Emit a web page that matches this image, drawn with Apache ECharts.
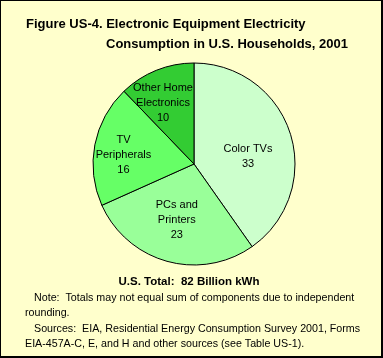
<!DOCTYPE html>
<html>
<head>
<meta charset="utf-8">
<script src="https://cdn.jsdelivr.net/npm/echarts@6/dist/echarts.min.js"></script>
<style>
html,body{margin:0;padding:0;background:#FFFFCC;}
#c{width:383px;height:358px;box-sizing:border-box;border-left:1px solid #000;border-top:1px solid #000;border-right:2px solid #000;border-bottom:2px solid #000;background:#FFFFCC;}
</style>
</head>
<body>
<div id="c"></div>
<script>
var categories = ['Color TVs', 'PCs and\nPrinters', 'TV\nPeripherals', 'Other Home\nElectronics'];
var values = [33, 23, 16, 10];
var sliceColors = ['#CCFFCC', '#99FF99', '#66FF66', '#33CC33'];
var titleLines = ['Figure US-4. Electronic Equipment Electricity', 'Consumption in U.S. Households, 2001'];
var totalText = 'U.S. Total:  82 Billion kWh';
var noteLines = ['Note:  Totals may not equal sum of components due to independent', 'rounding.', 'Sources:  EIA, Residential Energy Consumption Survey 2001, Forms', 'EIA-457A-C, E, and H and other sources (see Table US-1).'];

var labelShift = [[3, 9], [-3, 4], [-18, 1], [-11, -11]];
var font = 'Arial, "Liberation Sans", sans-serif';

var chart = echarts.init(document.getElementById('c'), null, {renderer: 'canvas'});
chart.setOption({
  backgroundColor: '#FFFFCC',
  animation: false,
  series: [{
    type: 'pie',
    center: [193, 163],
    radius: [0, 101],
    startAngle: 90,
    clockwise: true,
    data: categories.map(function (c, i) {
      return {name: c, value: values[i], itemStyle: {color: sliceColors[i]}};
    }),
    itemStyle: {borderColor: '#000', borderWidth: 1},
    label: {
      show: true,
      position: 'inside',
      formatter: function (p) { return p.name + '\n' + p.value; },
      color: '#000',
      fontFamily: font,
      fontSize: 11,
      lineHeight: 15,
      align: 'center'
    },
    labelLine: {show: false},
    labelLayout: function (p) {
      var s = labelShift[p.dataIndex];
      return {dx: s[0], dy: s[1]};
    },
    emphasis: {disabled: true}
  }],
  graphic: [
    {type: 'text', x: 25, y: 23, style: {text: titleLines[0], font: 'bold 13px ' + font, fill: '#000', verticalAlign: 'middle'}},
    {type: 'text', x: 105, y: 43, style: {text: titleLines[1], font: 'bold 13px ' + font, fill: '#000', verticalAlign: 'middle'}},
    {type: 'text', x: 188, y: 281, style: {text: totalText, font: 'bold 11.5px ' + font, fill: '#000', align: 'center', verticalAlign: 'middle'}},
    {type: 'text', x: 33, y: 297, style: {text: noteLines[0], font: '10.7px ' + font, fill: '#000', verticalAlign: 'middle'}},
    {type: 'text', x: 24, y: 312, style: {text: noteLines[1], font: '10.7px ' + font, fill: '#000', verticalAlign: 'middle'}},
    {type: 'text', x: 33, y: 328, style: {text: noteLines[2], font: '10.7px ' + font, fill: '#000', verticalAlign: 'middle'}},
    {type: 'text', x: 24, y: 343, style: {text: noteLines[3], font: '10.7px ' + font, fill: '#000', verticalAlign: 'middle'}}
  ]
});
</script>
</body>
</html>
